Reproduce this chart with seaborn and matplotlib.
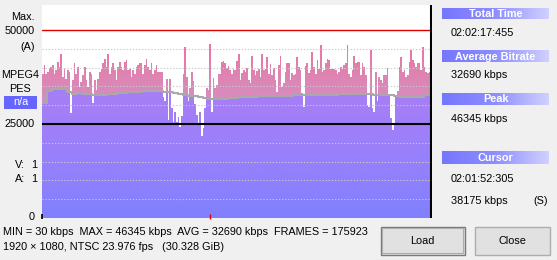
import numpy as np
import pandas as pd
import matplotlib
matplotlib.use("Agg")
import matplotlib.pyplot as plt
import seaborn as sns
from matplotlib.colors import LinearSegmentedColormap
from matplotlib.patches import Rectangle

# ---------------- data ----------------
bitrate_kbps = [
    38400, 40600, 38400, 38900, 39700, 40200, 40600, 38400, 39300, 41500,
    40200, 43500, 37500, 39700, 37100, 39300, 38900, 27900, 36700, 41100,
    38400, 40200, 34900, 36200, 38000, 40200, 36700, 34900, 38900, 38400,
    30500, 36700, 34000, 37100, 38900, 39700, 41100, 42400, 40200, 43700,
    38400, 40200, 41100, 39300, 36700, 40200, 41500, 40200, 39300, 41500,
    41900, 39300, 39700, 37500, 39300, 38400, 40200, 40600, 41200, 41100,
    38400, 40600, 42400, 40200, 39300, 41100, 38400, 39300, 40600, 38900,
    38900, 38700, 32300, 31000, 37100, 26000, 37100, 29200, 25400,
    28100, 25400, 26800, 24200, 27200, 38400, 45600, 37500, 31000, 34500,
    38900, 36500, 30400, 27500, 25300, 28300, 21900, 23900, 29200, 34500,
    34000, 46345, 28100, 37300, 34500, 35400, 38400, 38400, 41500, 41700,
    41100, 40000, 40400, 39300, 38400, 39500, 39300, 41800, 43700, 36800,
    38600, 39300, 38900, 40000, 36700, 35800, 43000, 39300, 38000, 39100,
    39500, 37500, 43700, 39300, 39700, 42800, 38400, 40900, 38000, 40000,
    36800, 33600, 40600, 43000, 34900, 35800, 38900, 41200, 41100, 36700,
    38600, 38000, 38200, 42800, 40200, 39300, 33200, 29600,
    40400, 41100, 38600, 39300, 44100, 40200, 38400, 41900, 39700, 45900,
    38900, 39300, 41100, 42400, 42100, 39700, 40000, 39500, 39300, 38400,
    38900, 40200, 39500, 40600, 41200, 45900, 38400, 37500, 39300, 43200,
    41100, 41500, 41500, 38000, 41100, 40200, 38000, 30100, 29600, 44600,
    29200, 28100, 38900, 31000, 37500, 36700, 35800, 38000, 38000, 40000,
    32700, 26600, 23500, 25300, 32300, 33900, 40200, 42800, 38900, 39300,
    37500, 38000, 41500, 44600, 41900, 41100, 40200, 41100, 41100, 39300,
    45400, 40200, 38900, 38600, 38900, 39300,
]

running_avg_kbps = [
    30500, 33800, 34400, 34400, 34400, 33500, 33000, 33200, 32900, 32900,
    32700, 32700, 32700, 33000, 33000, 33200, 33200, 33400, 33400, 33400,
    33700, 33700, 33700, 33900, 33600, 33600, 33200, 32900, 32600, 32400,
    32400, 32200, 31800, 31600, 31600, 31600, 31600, 31800, 31800, 32100,
    32100, 32100, 32100, 32400, 32400, 32400, 32400, 32400, 32400, 32400,
    32600, 32600, 32600, 32600, 32600, 32600, 32600, 32600, 32600, 32900,
    32900, 32900, 32900, 32900, 32900, 32900, 32700, 32700, 32700, 32700,
    32500, 32300, 32300, 32300, 32300, 32300, 32600, 32600,
]
AVG_SAMPLES_PER_STEP = 3

total_time = "02:02:17:455"
cursor_time = "02:01:52:305"
cursor_kbps = 38175
min_kbps, max_kbps, avg_kbps, frames = 30, 46345, 32690, 175923
left_labels_top = ["Max.", "50000", "(A)"]
stream_labels = ["MPEG4", "PES"]
y_ticks_major = [50000, 25000, 0]
y_dotted = [5000, 10000, 15000, 20000, 30000, 35000, 40000, 45000]
Y_MAX = 56650


def to_minutes(s):
    h, m, sec, ms = [int(p) for p in s.split(":")]
    return h * 60 + m + (sec + ms / 1000) / 60


total_min = to_minutes(total_time)
cursor_min = to_minutes(cursor_time)

# ---------------- derived series ----------------
br = np.array(bitrate_kbps, dtype=float)
n = len(br)
dt = total_min / n
edges = np.arange(n + 1) * dt
avg_s = np.repeat(np.array(running_avg_kbps, float), AVG_SAMPLES_PER_STEP)[:n]
purple_top = np.minimum(br, avg_s)
avg_df = pd.DataFrame({
    "t": np.arange(len(running_avg_kbps) + 1) * dt * AVG_SAMPLES_PER_STEP,
    "kbps": running_avg_kbps + [running_avg_kbps[-1]],
})

# ---------------- figure ----------------
sns.set_theme(style="white")
plt.rcParams['font.family'] = ['Liberation Sans', 'DejaVu Sans']
FS = 7.8

W, H = 557, 260
fig = plt.figure(figsize=(W / 100, H / 100), dpi=100)
fig.patch.set_facecolor('#f0f0f0')

ax = fig.add_axes([42 / W, 42 / H, 390 / W, 213 / H])
ax.set_facecolor('white')
for sp in ax.spines.values():
    sp.set_visible(False)

grad = np.linspace(0, Y_MAX, 600)[:, None]
pink_cmap = LinearSegmentedColormap.from_list("pk", ["#d68ec2", "#de84b2", "#ee72a2"])
purple_cmap = LinearSegmentedColormap.from_list("pu", ["#8080ff", "#9880fc", "#a67ef6"])

pink_poly = ax.fill_between(edges, 0, np.append(br, br[-1]), step='post',
                            facecolor='none', linewidth=0)
purple_poly = ax.fill_between(edges, 0, np.append(purple_top, purple_top[-1]),
                              step='post', facecolor='none', linewidth=0)

im_pk = ax.imshow(grad, extent=[0, total_min, 0, Y_MAX], origin='lower',
                  aspect='auto', cmap=pink_cmap, vmin=30000, vmax=46000,
                  zorder=1, interpolation='bilinear')
im_pk.set_clip_path(pink_poly.get_paths()[0], transform=ax.transData)
im_pu = ax.imshow(grad, extent=[0, total_min, 0, Y_MAX], origin='lower',
                  aspect='auto', cmap=purple_cmap, vmin=0, vmax=32000,
                  zorder=2, interpolation='bilinear')
im_pu.set_clip_path(purple_poly.get_paths()[0], transform=ax.transData)

sns.lineplot(data=avg_df, x="t", y="kbps", ax=ax, drawstyle='steps-post',
             color='#a9a9a9', linewidth=1.5, zorder=4)

for v in y_dotted:
    ax.axhline(v, color='#c8c8c8', linewidth=0.8, dashes=(1.2, 1.6), zorder=5)
ax.axhline(50000, color='#e00000', linewidth=1.0, zorder=6)
ax.axhline(25000, color='black', linewidth=1.5, zorder=6)
ax.axvline(cursor_min, color='black', linewidth=1.5, zorder=7)

peak_t = edges[int(np.argmax(br))] + dt / 2
ax.vlines([peak_t], -300, 1000, color='#e00000', linewidth=1.0, zorder=8, clip_on=False)
ax.vlines([0], -300, 1000, color='black', linewidth=1.2, zorder=8, clip_on=False)

ax.set_xlim(0, total_min)
ax.set_ylim(0, Y_MAX)
ax.set_xticks([])
ax.set_yticks([])
ax.set_xlabel("")
ax.set_ylabel("")
if ax.get_legend():
    ax.get_legend().remove()

# ---------------- overlay (pixel coordinates) ----------------
ov = fig.add_axes([0, 0, 1, 1], zorder=-1)
ov.set_xlim(0, W)
ov.set_ylim(H, 0)
ov.axis('off')


def txt(x, y, s, ha='left', **kw):
    ov.text(x, y, s, ha=ha, va='center', fontsize=kw.pop('fontsize', FS),
            color=kw.pop('color', 'black'), **kw)


# left labels
txt(35, 16.5, left_labels_top[0], ha='right')
txt(35, 30.5, left_labels_top[1], ha='right')
txt(35, 46.5, left_labels_top[2], ha='right')
txt(20, 75.5, stream_labels[0], ha='center')
txt(20.5, 88.5, stream_labels[1], ha='center')
ov.add_patch(Rectangle((4, 96), 33, 12.5, facecolor='#6666ff', edgecolor='none'))
txt(20.5, 102.3, "n/a", ha='center', color='white')
txt(35, 124, f"{y_ticks_major[1]}", ha='right')
txt(15, 165, "V:")
txt(37, 165, "1", ha='right')
txt(15, 179.5, "A:")
txt(37, 179.5, "1", ha='right')
txt(35, 217.5, f"{y_ticks_major[2]}", ha='right')

# bottom info
txt(3, 232, f"MIN = {min_kbps} kbps  MAX = {max_kbps} kbps  AVG = {avg_kbps} kbps  FRAMES = {frames}")
txt(3, 247, "1920 × 1080, NTSC 23.976 fps   (30.328 GiB)")

# right panel headers
hdr_cmap = LinearSegmentedColormap.from_list("hd", ["#7676ff", "#8e8eff", "#d0d0ff"])
hgrad = np.linspace(0, 1, 200)[None, :]
headers = [("Total Time", 8.3, 18.6), ("Average Bitrate", 50.7, 61.9),
           ("Peak", 93.2, 105.0), ("Cursor", 151.0, 164.0)]
for label, y0, y1 in headers:
    ov.imshow(hgrad, extent=[442, 549, y1, y0], aspect='auto', cmap=hdr_cmap,
              interpolation='bilinear')
    txt(495.5, (y0 + y1) / 2 + 0.3, label, ha='center', color='white',
        fontweight='bold')
ov.set_xlim(0, W)
ov.set_ylim(H, 0)

txt(451, 33.3, total_time)
txt(451, 75.5, f"{avg_kbps} kbps")
txt(451, 118.5, f"{max_kbps} kbps")
txt(451, 178.5, cursor_time)
txt(451, 201.5, f"{cursor_kbps} kbps")
txt(548, 201.5, "(S)", ha='right')

# buttons
ov.add_patch(Rectangle((380.5, 226.5), 84, 28, facecolor='#e1e1e1', edgecolor='#7a7a7a', linewidth=1.0))
ov.add_patch(Rectangle((381.8, 227.8), 81.4, 25.4, facecolor='none', edgecolor='#adadad', linewidth=0.8))
txt(422.5, 241, "Load", ha='center')
ov.add_patch(Rectangle((474.5, 226.5), 75, 28, facecolor='#e1e1e1', edgecolor='#adadad', linewidth=1.0))
txt(512, 241, "Close", ha='center')

fig.savefig("out.png", dpi=100, facecolor=fig.get_facecolor())
